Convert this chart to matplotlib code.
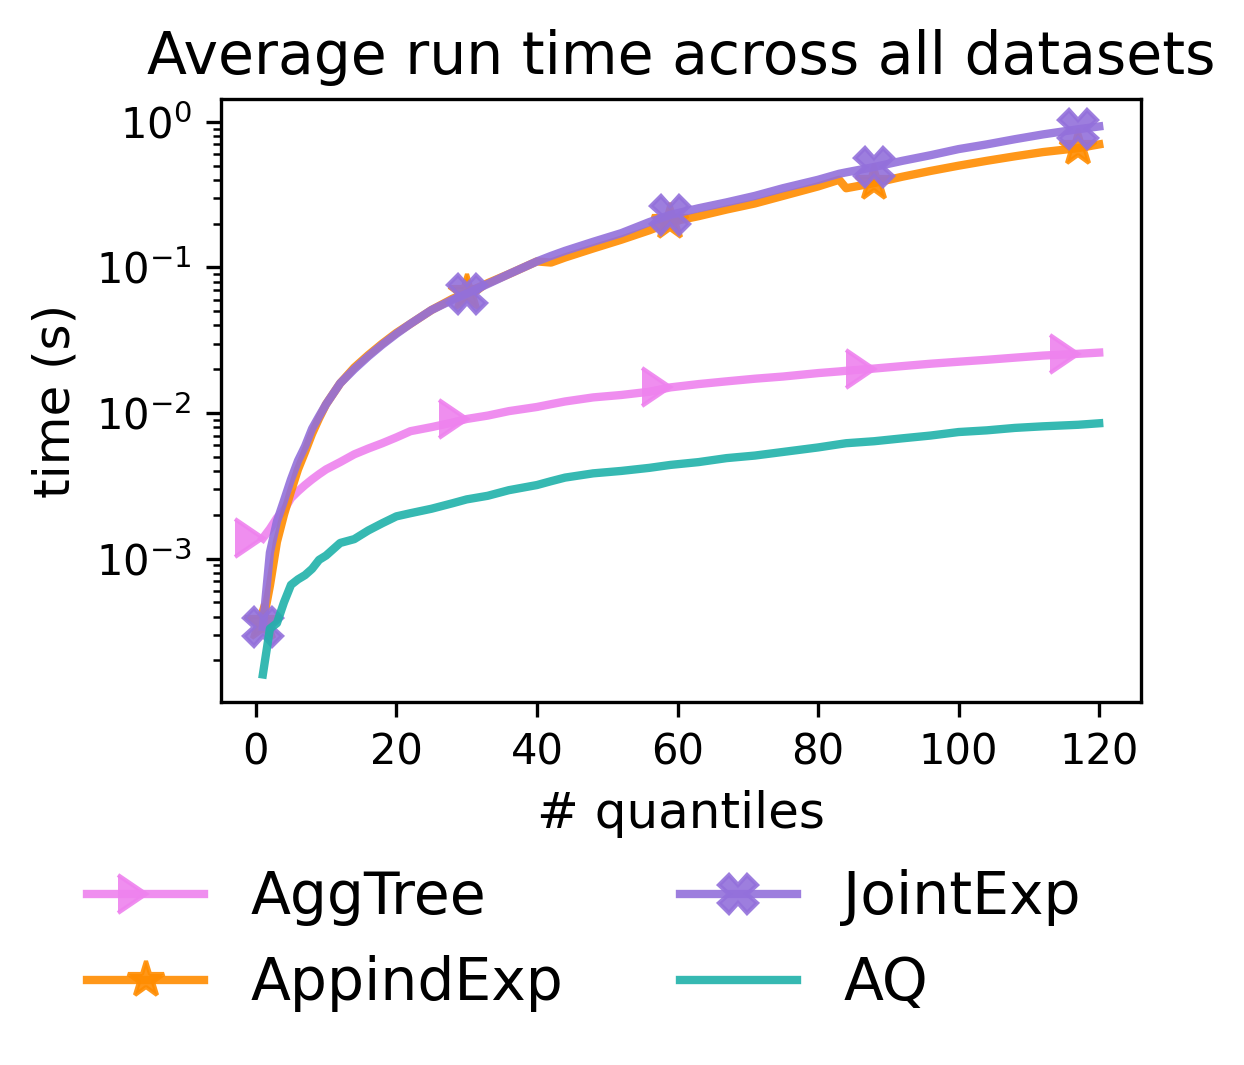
import numpy as np
from matplotlib import pyplot as plt

# number of quantiles on the x axis
quantiles = [1, 2, 3, 4, 5, 6, 7, 8, 9, 10, 12, 14, 16, 18, 20, 22, 25, 28, 30,
             33, 36, 40, 42, 44, 48, 52, 56, 59, 63, 67, 71, 75, 80, 83, 84, 88,
             92, 96, 100, 104, 108, 112, 117, 120]

aggtree = [1.38e-3, 1.6e-3, 1.9e-3, 2.15e-3, 2.6e-3, 2.9e-3, 3.2e-3, 3.5e-3,
           3.8e-3, 4.1e-3, 4.6e-3, 5.2e-3, 5.7e-3, 6.2e-3, 6.8e-3, 7.5e-3,
           8.0e-3, 8.6e-3, 9.1e-3, 9.6e-3, 1.03e-2, 1.1e-2, 1.15e-2, 1.2e-2,
           1.28e-2, 1.33e-2, 1.4e-2, 1.5e-2, 1.58e-2, 1.65e-2, 1.72e-2, 1.78e-2,
           1.88e-2, 1.93e-2, 1.95e-2, 2.02e-2, 2.1e-2, 2.18e-2, 2.25e-2, 2.32e-2,
           2.4e-2, 2.48e-2, 2.55e-2, 2.6e-2]

appindexp = [3.6e-4, 6.5e-4, 1.3e-3, 2.0e-3, 2.9e-3, 4.1e-3, 5.4e-3, 7.2e-3,
             9.2e-3, 1.15e-2, 1.6e-2, 2.05e-2, 2.5e-2, 3.0e-2, 3.55e-2, 4.1e-2,
             5.1e-2, 6.1e-2, 6.7e-2, 7.8e-2, 9.0e-2, 1.1e-1, 1.08e-1, 1.17e-1,
             1.35e-1, 1.55e-1, 1.8e-1, 2.05e-1, 2.25e-1, 2.5e-1, 2.75e-1, 3.1e-1,
             3.6e-1, 4.0e-1, 3.5e-1, 3.8e-1, 4.2e-1, 4.6e-1, 5.0e-1, 5.4e-1,
             5.8e-1, 6.2e-1, 6.6e-1, 7.0e-1]

jointexp = [3.4e-4, 1.1e-3, 1.8e-3, 2.5e-3, 3.5e-3, 4.7e-3, 5.9e-3, 7.8e-3,
            9.5e-3, 1.15e-2, 1.6e-2, 2.0e-2, 2.45e-2, 2.95e-2, 3.5e-2, 4.1e-2,
            5.1e-2, 6.0e-2, 6.6e-2, 7.7e-2, 9.0e-2, 1.1e-1, 1.2e-1, 1.3e-1,
            1.5e-1, 1.72e-1, 2.05e-1, 2.3e-1, 2.55e-1, 2.8e-1, 3.1e-1, 3.5e-1,
            4.0e-1, 4.4e-1, 4.5e-1, 4.9e-1, 5.4e-1, 5.9e-1, 6.5e-1, 7.0e-1,
            7.6e-1, 8.2e-1, 8.9e-1, 9.3e-1]

aq = [1.6e-4, 3.3e-4, 3.6e-4, 5.0e-4, 6.6e-4, 7.2e-4, 7.7e-4, 8.5e-4,
      9.8e-4, 1.05e-3, 1.28e-3, 1.36e-3, 1.56e-3, 1.75e-3, 1.95e-3, 2.05e-3,
      2.2e-3, 2.4e-3, 2.55e-3, 2.7e-3, 2.95e-3, 3.2e-3, 3.4e-3, 3.6e-3,
      3.85e-3, 4.0e-3, 4.2e-3, 4.4e-3, 4.6e-3, 4.9e-3, 5.1e-3, 5.4e-3,
      5.8e-3, 6.1e-3, 6.2e-3, 6.4e-3, 6.7e-3, 7.0e-3, 7.4e-3, 7.6e-3,
      7.9e-3, 8.1e-3, 8.3e-3, 8.5e-3]

marker_at = [1, 30, 59, 88, 117]
mark_idx = [quantiles.index(q) for q in marker_at]

fig = plt.figure(figsize=(1244 / 300, 1065 / 300), dpi=300)
ax = fig.add_axes([0.1777, 0.341, 0.7395, 0.566])

style = dict(linewidth=2, alpha=0.9, markersize=9, markevery=mark_idx)
ax.plot(quantiles, aggtree, color="violet", marker=5, label="AggTree", **style)
ax.plot(quantiles, appindexp, color="darkorange", marker="*", label="AppindExp", **style)
ax.plot(quantiles, jointexp, color="mediumpurple", marker="X", label="JointExp", **style)
ax.plot(quantiles, aq, color="lightseagreen", linewidth=2, alpha=0.9, label="AQ")

ax.set_yscale("log")
ax.set_title("Average run time across all datasets", fontsize=14)
ax.set_xlabel("# quantiles", fontsize=12)
ax.set_ylabel("time (s)", fontsize=12)
ax.tick_params(labelsize=10)
ax.set_xticks([0, 20, 40, 60, 80, 100, 120])

ax.legend(loc="upper left", bbox_to_anchor=(0.0514, 0.206),
          bbox_transform=fig.transFigure, ncol=2, frameon=False,
          fontsize=14, labelspacing=0.5, borderaxespad=0)

fig.savefig("out.png", dpi=300)
